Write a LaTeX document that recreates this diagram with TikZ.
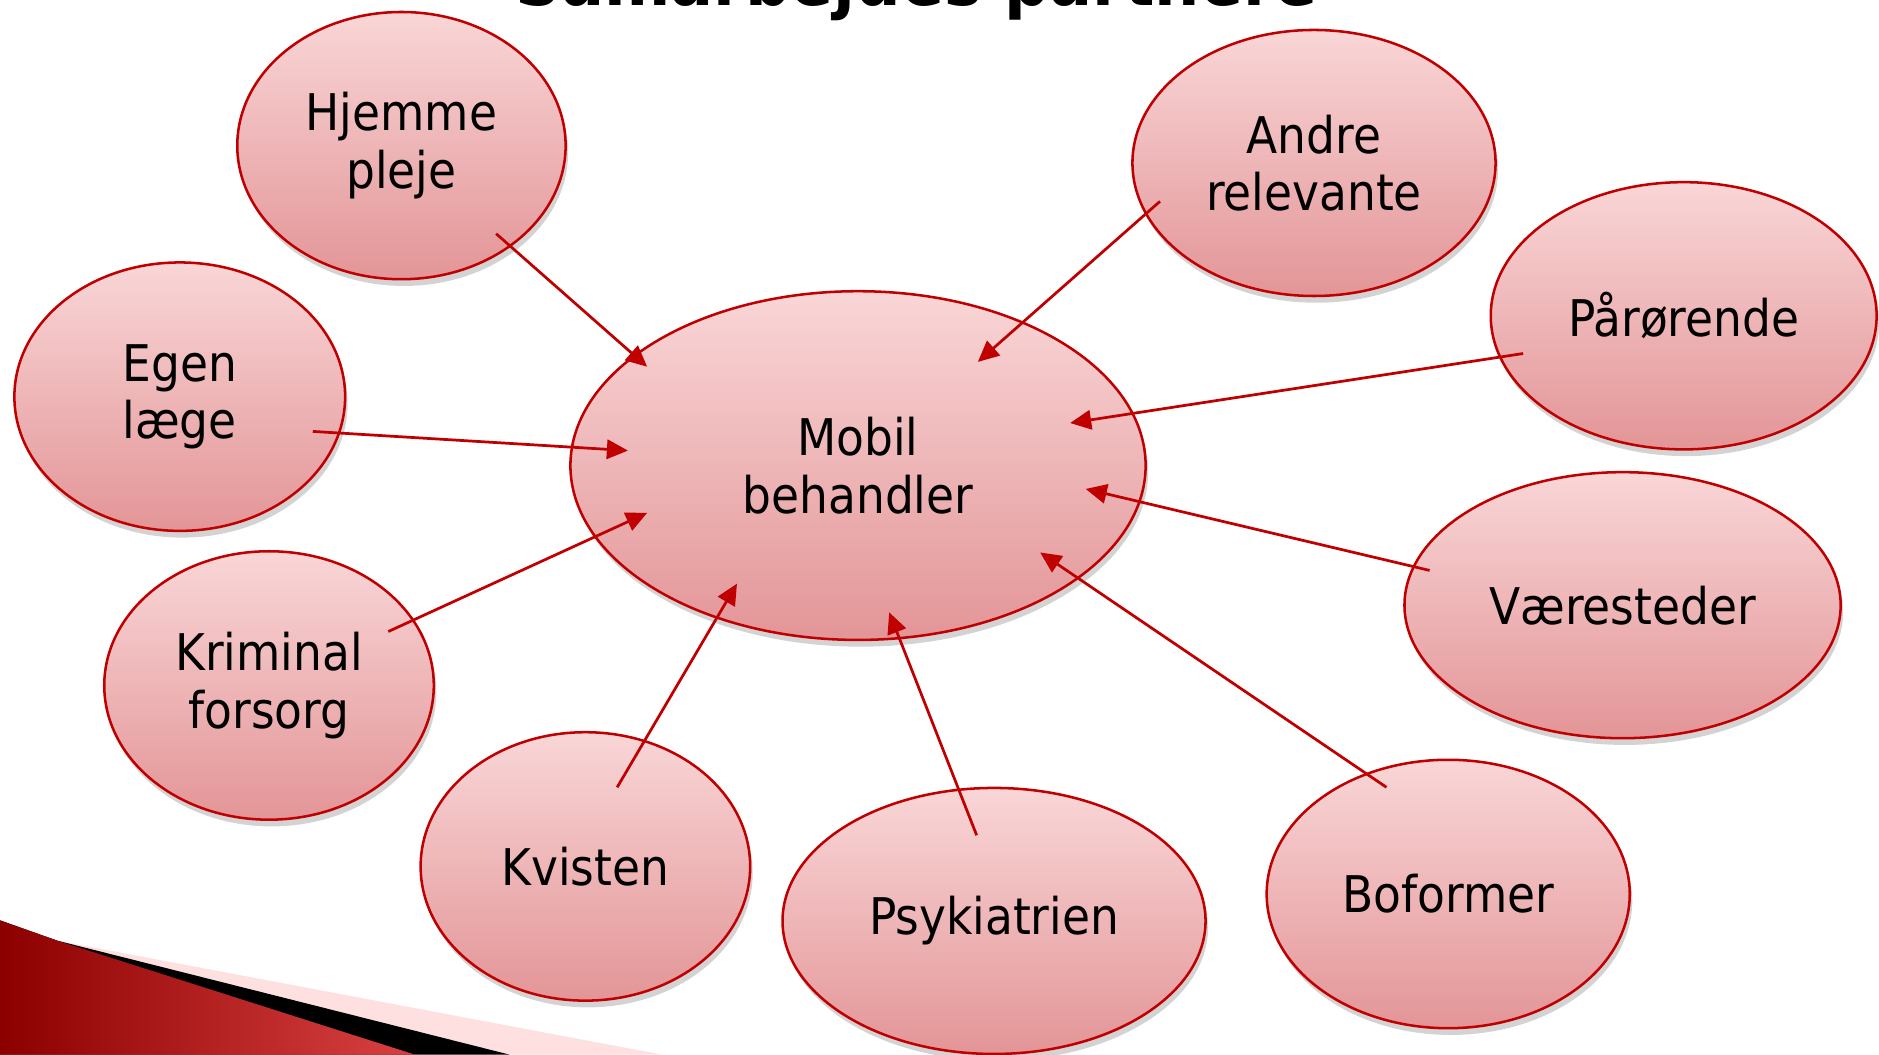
\documentclass[tikz,border=0pt]{standalone}
\usepackage{fontspec}
\setmainfont{DejaVu Sans Condensed}
\usetikzlibrary{shapes.geometric,shadows,arrows.meta}

\definecolor{rimred}{HTML}{C00000}
\definecolor{topPink}{HTML}{F9D6D7}
\definecolor{bottomPink}{HTML}{E39597}

\begin{document}
\begin{tikzpicture}
	[partner/.style={ellipse,draw=rimred,line width=0.6pt,inner sep=0pt,align=center,
		top color=topPink,bottom color=bottomPink,
		drop shadow={shadow xshift=0.6pt,shadow yshift=-1.6pt,opacity=0.35},
		font=\fontsize{12}{13.6}\selectfont},
	link/.style={-{Triangle[length=5pt,width=4.6pt]},draw=rimred,line width=0.65pt}]

	\clip (0,0) rectangle (15.68,-8.80);
	\useasboundingbox (0,0) rectangle (15.68,-8.80);

	% title, mostly outside the page
	\node (title) at (7.65,-0.05) [anchor=base,font=\fontsize{16.8}{20}\selectfont\bfseries] {Samarbejdes partnere};

	% corner decoration
	\fill[fill=red!12!white] (0,-7.68) -- (0.48,-7.85) -- (5.52,-8.80) -- (0,-8.80) -- cycle;
	\fill[black] (0,-7.68) -- (0.48,-7.85) -- (4.25,-8.80) -- (0,-8.80) -- cycle;
	\shade[left color=red!55!black,right color=red!70!white!85!black] (0,-7.68) -- (0.48,-7.85) -- (3.46,-8.80) -- (0,-8.80) -- cycle;

	% centre
	\node (mobil) at ( 7.16,-3.885 ) [partner, minimum width=4.80cm, minimum height=2.91cm] {Mobil\\behandler};

	% partners
	\node (hjemme) at ( 3.35,-1.215 ) [partner, minimum width=2.74cm, minimum height=2.23cm] {Hjemme\\pleje};
	\node (andre) at ( 10.965,-1.36 ) [partner, minimum width=3.03cm, minimum height=2.22cm] {Andre\\relevante};
	\node (paaroerende) at ( 14.05,-2.635 ) [partner, minimum width=3.22cm, minimum height=2.23cm] {Pårørende};
	\node (egen) at ( 1.50,-3.31 ) [partner, minimum width=2.76cm, minimum height=2.24cm] {Egen\\læge};
	\node (vaeresteder) at ( 13.54,-5.05 ) [partner, minimum width=3.64cm, minimum height=2.22cm] {Væresteder};
	\node (kriminal) at ( 2.245,-5.72 ) [partner, minimum width=2.75cm, minimum height=2.24cm] {Kriminal\\forsorg};
	\node (kvisten) at ( 4.885,-7.23 ) [partner, minimum width=2.75cm, minimum height=2.24cm] {Kvisten};
	\node (psykiatrien) at ( 8.295,-7.685 ) [partner, minimum width=3.53cm, minimum height=2.22cm] {Psykiatrien};
	\node (boformer) at ( 12.085,-7.46 ) [partner, minimum width=3.03cm, minimum height=2.24cm] {Boformer};

	% arrow ends
	\coordinate (hjemme-out) at ( 4.14,-1.95 );
	\coordinate (hjemme-in) at ( 5.40,-3.06 );
	\coordinate (andre-out) at ( 9.68,-1.68 );
	\coordinate (andre-in) at ( 8.16,-3.02 );
	\coordinate (paaroerende-out) at ( 12.71,-2.95 );
	\coordinate (paaroerende-in) at ( 8.93,-3.53 );
	\coordinate (egen-out) at ( 2.61,-3.60 );
	\coordinate (egen-in) at ( 5.24,-3.76 );
	\coordinate (vaeresteder-out) at ( 11.93,-4.76 );
	\coordinate (vaeresteder-in) at ( 9.06,-4.08 );
	\coordinate (kriminal-out) at ( 3.24,-5.27 );
	\coordinate (kriminal-in) at ( 5.40,-4.28 );
	\coordinate (kvisten-out) at ( 5.15,-6.57 );
	\coordinate (kvisten-in) at ( 6.15,-4.87 );
	\coordinate (psykiatrien-out) at ( 8.15,-6.97 );
	\coordinate (psykiatrien-in) at ( 7.42,-5.11 );
	\coordinate (boformer-out) at ( 11.57,-6.57 );
	\coordinate (boformer-in) at ( 8.68,-4.61 );

	\draw [link] (hjemme-out) -- (hjemme-in);
	\draw [link] (andre-out) -- (andre-in);
	\draw [link] (paaroerende-out) -- (paaroerende-in);
	\draw [link] (egen-out) -- (egen-in);
	\draw [link] (vaeresteder-out) -- (vaeresteder-in);
	\draw [link] (kriminal-out) -- (kriminal-in);
	\draw [link] (kvisten-out) -- (kvisten-in);
	\draw [link] (psykiatrien-out) -- (psykiatrien-in);
	\draw [link] (boformer-out) -- (boformer-in);

\end{tikzpicture}
\end{document}
